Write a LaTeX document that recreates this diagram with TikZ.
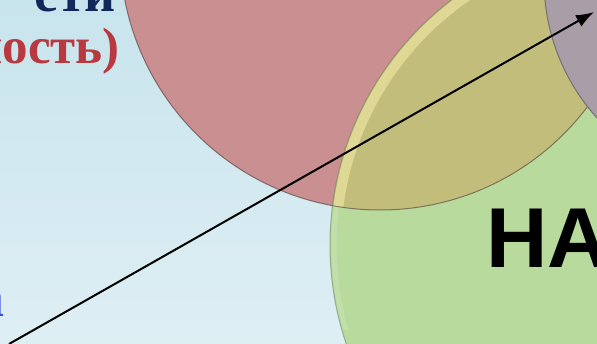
\documentclass[tikz,border=0pt]{standalone}
\usepackage{fontspec}
\setmainfont{Liberation Serif}
\newfontfamily\headfont{Liberation Sans}
\usepackage{xcolor}
\usetikzlibrary{arrows.meta}
\definecolor{bgtop}{HTML}{C8E4ED}
\definecolor{bgbot}{HTML}{DEEFF4}
\definecolor{rosefill}{HTML}{C98F91}
\definecolor{leaffill}{HTML}{B8DA9C}
\definecolor{olivefill}{HTML}{C3BD7B}
\definecolor{mauvefill}{HTML}{A99DA7}
\definecolor{titlenavy}{HTML}{10295A}
\definecolor{titlered}{HTML}{B83A40}
\definecolor{linkblue}{HTML}{3A4FD8}

\begin{document}
\begin{tikzpicture}[x=1pt,y=-1pt,
    lbl/.style={inner sep=0pt,anchor=base east}]%
          \useasboundingbox (0,0) rectangle (597,344);%
          \clip (0,0) rectangle (597,344);%
          \shade [top color=bgtop,bottom color=bgbot] (0,0) rectangle (597,344);%
          \coordinate (R) at (380,-50);%
          \coordinate (G) at (638,245);%
          \coordinate (M) at (750,-20);%
          % circles
          \fill [rosefill] (R) circle [radius=260pt];%
          \fill [leaffill] (G) circle [radius=308pt];%
          \begin{scope}%
            \clip (R) circle [radius=260pt];%
            \fill [olivefill] (G) circle [radius=308pt];%
            \draw [line width=10pt,yellow!30!white,opacity=.45] (G) circle [radius=302pt];%
          \end{scope}%
          \begin{scope}%
            \clip (G) circle [radius=308pt];%
            \clip (0,205) rectangle (540,330);%
            \draw [line width=5pt,white,opacity=.15] (G) circle [radius=304pt];%
          \end{scope}%
          \draw [line width=1pt,black!60!rosefill,opacity=.6] (R) circle [radius=260pt];%
          \draw [line width=1pt,black!45!leaffill,opacity=.5] (G) circle [radius=308pt];%
          \fill [mauvefill] (M) circle [radius=206pt];%
          \draw [line width=1pt,black!30!mauvefill] (M) circle [radius=206pt];%
          % texts
          \node (title) [lbl,text=titlenavy,font=\bfseries\fontsize{54}{54}\selectfont] at (116,12) {ети};%
          \node (sub) [lbl,text=titlered,font=\bfseries\fontsize{51}{51}\selectfont] at (120,64) {ность)};%
          \node (link) [lbl,text=linkblue,font=\bfseries\fontsize{56}{56}\selectfont] at (5,317) {а};%
          \node (big) [inner sep=0pt,anchor=base west,font=\headfont\bfseries\fontsize{85}{85}\selectfont] at (486,268) {НА};%
          % arrow
          \coordinate (from) at (9,344);%
          \coordinate (to) at (594,12);%
          \draw [line width=2pt,-{Latex[length=18pt,width=13pt]}] (from) -- (to);%
        \end{tikzpicture}
\end{document}
